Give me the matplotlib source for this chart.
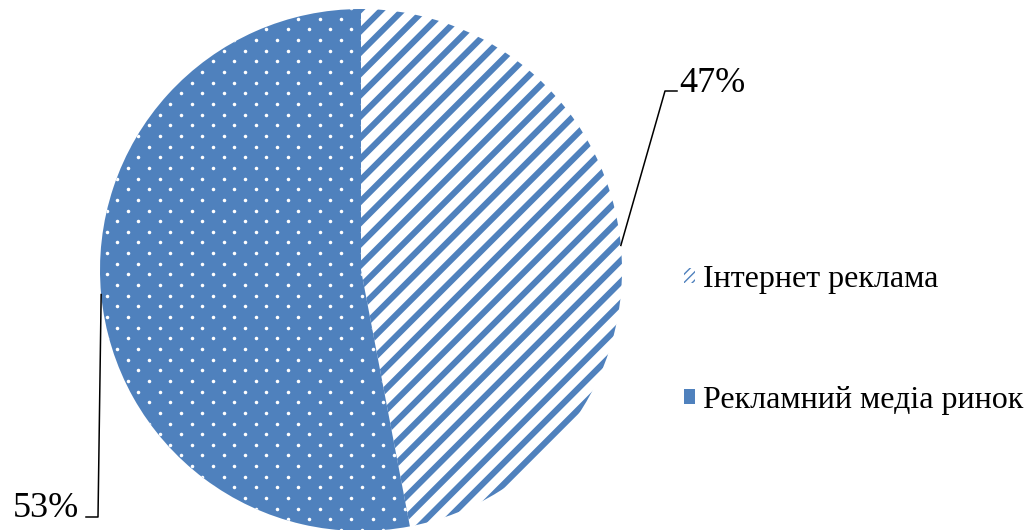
import numpy as np
import matplotlib
matplotlib.use('Agg')
import matplotlib.pyplot as plt
from matplotlib.patches import Patch

categories = ['Інтернет реклама', 'Рекламний медіа ринок']
values = [47, 53]
pct_labels = ['47%', '53%']

plt.rcParams['font.family'] = ['Liberation Serif', 'DejaVu Serif']

W, H = 1033, 530
fig = plt.figure(figsize=(W / 100, H / 100), dpi=100)
ax = fig.add_axes([0, 0, 1, 1])
blue = '#4F81BD'
cx, cy, r = 361, H - 270, 261

wedges, _ = ax.pie(values, startangle=90, counterclock=False, center=(cx, cy),
                   radius=r, colors=['white', blue], wedgeprops=dict(linewidth=0))
ax.set_xlim(0, W)
ax.set_ylim(0, H)
ax.set_aspect('equal')
ax.axis('off')

# wide upward-diagonal stripe texture for the first wedge
step = 21.3
for b in np.arange(-W, H + step, step):
    ln, = ax.plot([0, W], [b, b + W], color=blue, lw=4.4, solid_capstyle='butt')
    ln.set_clip_path(wedges[0])

# dotted texture for the second wedge
xs = np.arange(0, W + 22, 21.3)
ys = np.arange(0, H + 11, 10.65)
px, py = [], []
for i, y in enumerate(ys):
    for x in xs:
        px.append(x + (i % 2) * 10.65)
        py.append(y)
sc = ax.scatter(px, py, s=6.5, c='white', linewidths=0, zorder=3)
sc.set_clip_path(wedges[1])

# leader lines and percentage labels
def edge_point(w):
    th = np.deg2rad((w.theta1 + w.theta2) / 2)
    return cx + r * np.cos(th), cy + r * np.sin(th)

x0, y0 = edge_point(wedges[0])
ax.plot([x0, 665, 677], [y0, H - 91, H - 91], color='black', lw=1.1, zorder=4)
ax.text(679, H - 92, pct_labels[0], ha='left', va='baseline', fontsize=26)

x1, y1 = edge_point(wedges[1])
ax.plot([x1, 98, 86], [y1, H - 517, H - 517], color='black', lw=1.1, zorder=4)
ax.text(79, H - 517, pct_labels[1], ha='right', va='baseline', fontsize=26)

# legend
handles = [Patch(facecolor='white', edgecolor=blue, hatch='////', linewidth=0),
           Patch(facecolor=blue, edgecolor=blue, linewidth=0)]
fs = 23
leg = ax.legend(handles, categories, loc='center left', frameon=False,
                bbox_to_anchor=(684 / W, 1 - 340 / H), bbox_transform=fig.transFigure,
                fontsize=fs, borderpad=0, borderaxespad=0,
                handlelength=0.345, handleheight=0.345, handletextpad=0.25,
                labelspacing=2.87)

fig.savefig('out.png', dpi=100)
